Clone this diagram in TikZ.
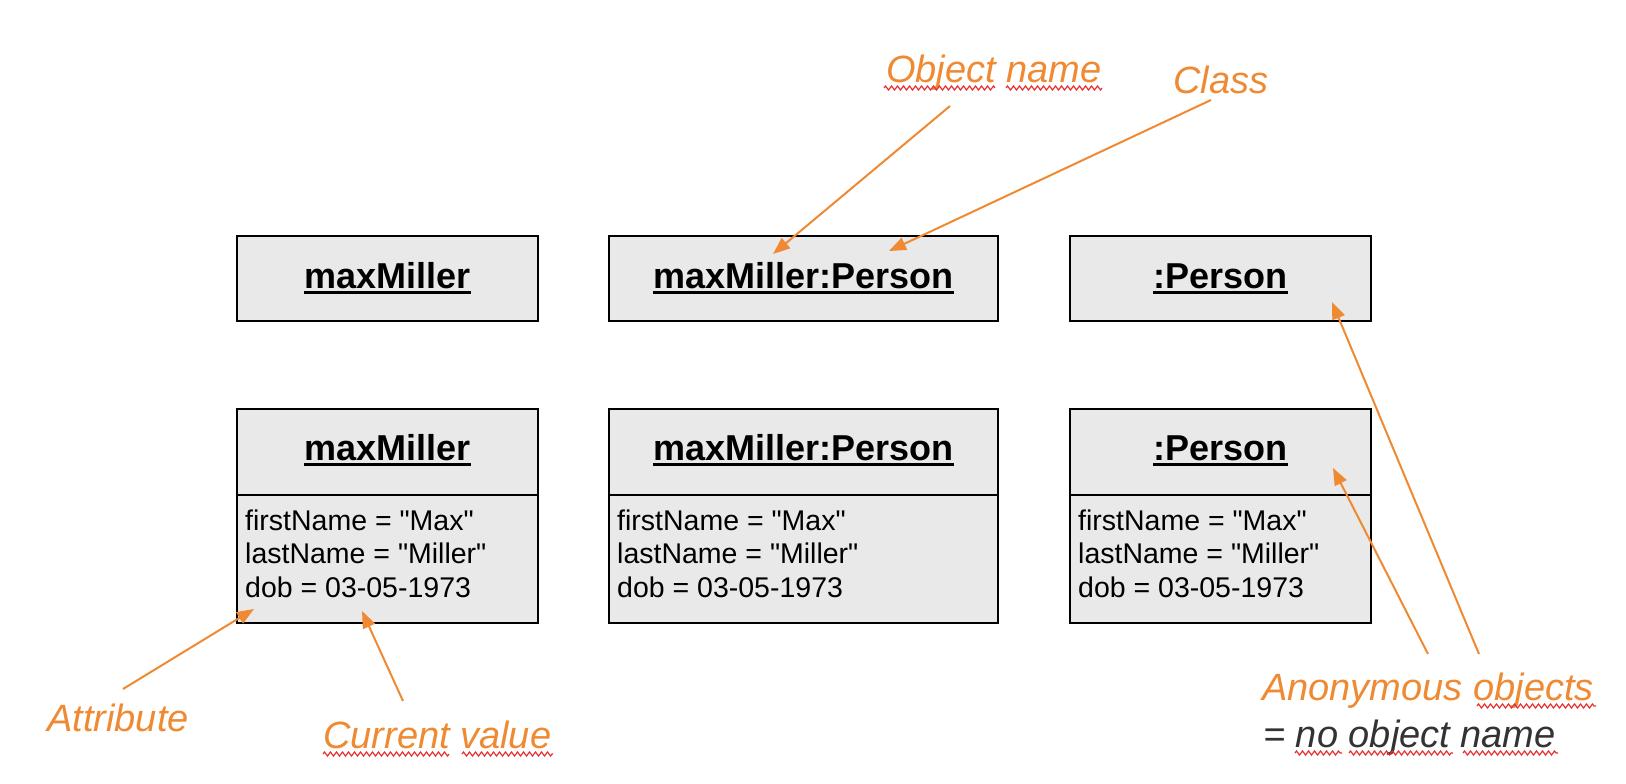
\documentclass[tikz,border=0pt]{standalone}
\usepackage{fontspec}
\setmainfont{Liberation Sans}
\newfontfamily\attrfont{Liberation Sans}
\usetikzlibrary{arrows.meta,decorations.pathmorphing}
\definecolor{annor}{RGB}{239,137,50}
\definecolor{boxfill}{RGB}{233,233,233}
\definecolor{squig}{RGB}{228,48,48}
\definecolor{darktxt}{RGB}{51,51,51}
\newcommand\ulhead[1]{\setbox0\hbox{#1}\rlap{\rule[-6pt]{\wd0}{3.5pt}}\box0}
\begin{document}
\begin{tikzpicture}[x=1pt,y=-1pt,
  objbox/.style={draw=black,line width=2.7pt,fill=boxfill,inner sep=0pt,minimum width=#1},
  hdr/.style={font=\fontsize{36}{40}\selectfont\bfseries,anchor=base,inner sep=0pt},
  attr/.style={font=\attrfont\fontsize{28.5}{34}\selectfont,anchor=base west,inner sep=0pt},
  ann/.style={font=\fontsize{38}{44}\selectfont\itshape,text=annor,anchor=base west,inner sep=0pt},
  annarrow/.style={draw=annor,line width=2pt,-{Triangle[length=17pt,width=13pt]}},
  squiggle/.style={draw=squig,line width=1.2pt,decorate,decoration={zigzag,segment length=6pt,amplitude=2pt}}]
\useasboundingbox (0,0) rectangle (1626,784);

% top row
\node[objbox=301pt,minimum height=85pt] (t1) at (387.5,278.5) {};
\node[objbox=389pt,minimum height=85pt] (t2) at (803.5,278.5) {};
\node[objbox=301pt,minimum height=85pt] (t3) at (1220.5,278.5) {};
\node[hdr] (t1h) at (387.5,288) {\ulhead{maxMiller}};
\node[hdr] (t2h) at (803.5,288) {\ulhead{maxMiller:Person}};
\node[hdr] (t3h) at (1220.5,288) {\ulhead{:Person}};

% bottom row
\node[objbox=301pt,minimum height=86pt] (b1) at (387.5,452) {};
\node[objbox=389pt,minimum height=86pt] (b2) at (803.5,452) {};
\node[objbox=301pt,minimum height=86pt] (b3) at (1220.5,452) {};
\node[objbox=301pt,minimum height=128pt] (b1a) at (387.5,559) {};
\node[objbox=389pt,minimum height=128pt] (b2a) at (803.5,559) {};
\node[objbox=301pt,minimum height=128pt] (b3a) at (1220.5,559) {};
\node[hdr] (b1h) at (387.5,460) {\ulhead{maxMiller}};
\node[hdr] (b2h) at (803.5,460) {\ulhead{maxMiller:Person}};
\node[hdr] (b3h) at (1220.5,460) {\ulhead{:Person}};

\foreach \bx/\nm in {245/a, 617/b, 1078/c}{
  \node[attr] (f\nm) at (\bx,530) {firstName = "Max"};
  \node[attr] (l\nm) at (\bx,563.5) {lastName = "Miller"};
  \node[attr] (d\nm) at (\bx,597) {dob = 03-05-1973};
}

% annotations
\node[ann] (oname) at (886,82) {Object name};
\node[ann] (cls) at (1173,93) {Class};
\node[ann] (attrl) at (47,731) {Attribute};
\node[ann] (curv) at (323,748) {Current value};
\node[ann] (anon) at (1262,700) {Anonymous objects};
\node[ann,text=darktxt] (noname) at (1263,747) {= no object name};

% spell-check squiggles
\draw[squiggle] (884,88) -- (995,88);
\draw[squiggle] (1006,88) -- (1102,88);
\draw[squiggle] (323,754) -- (449,754);
\draw[squiggle] (462,754) -- (553,754);
\draw[squiggle] (1477,706) -- (1596,706);
\draw[squiggle] (1295,753) -- (1342,753);
\draw[squiggle] (1349,753) -- (1453,753);
\draw[squiggle] (1463,753) -- (1558,753);

% arrow endpoints
\coordinate (onS) at (950,106);
\coordinate (onT) at (773,254);
\coordinate (clS) at (1211,100);
\coordinate (clT) at (889,251);
\coordinate (an1S) at (1479,654);
\coordinate (an1T) at (1332,302);
\coordinate (an2S) at (1428,654);
\coordinate (an2T) at (1333,468);
\coordinate (atS) at (123,689);
\coordinate (atT) at (254,609);
\coordinate (cvS) at (403,701);
\coordinate (cvT) at (362,611);

\draw[annarrow] (onS) -- (onT);
\draw[annarrow] (clS) -- (clT);
\draw[annarrow] (an1S) -- (an1T);
\draw[annarrow] (an2S) -- (an2T);
\draw[annarrow] (atS) -- (atT);
\draw[annarrow] (cvS) -- (cvT);
\end{tikzpicture}
\end{document}
